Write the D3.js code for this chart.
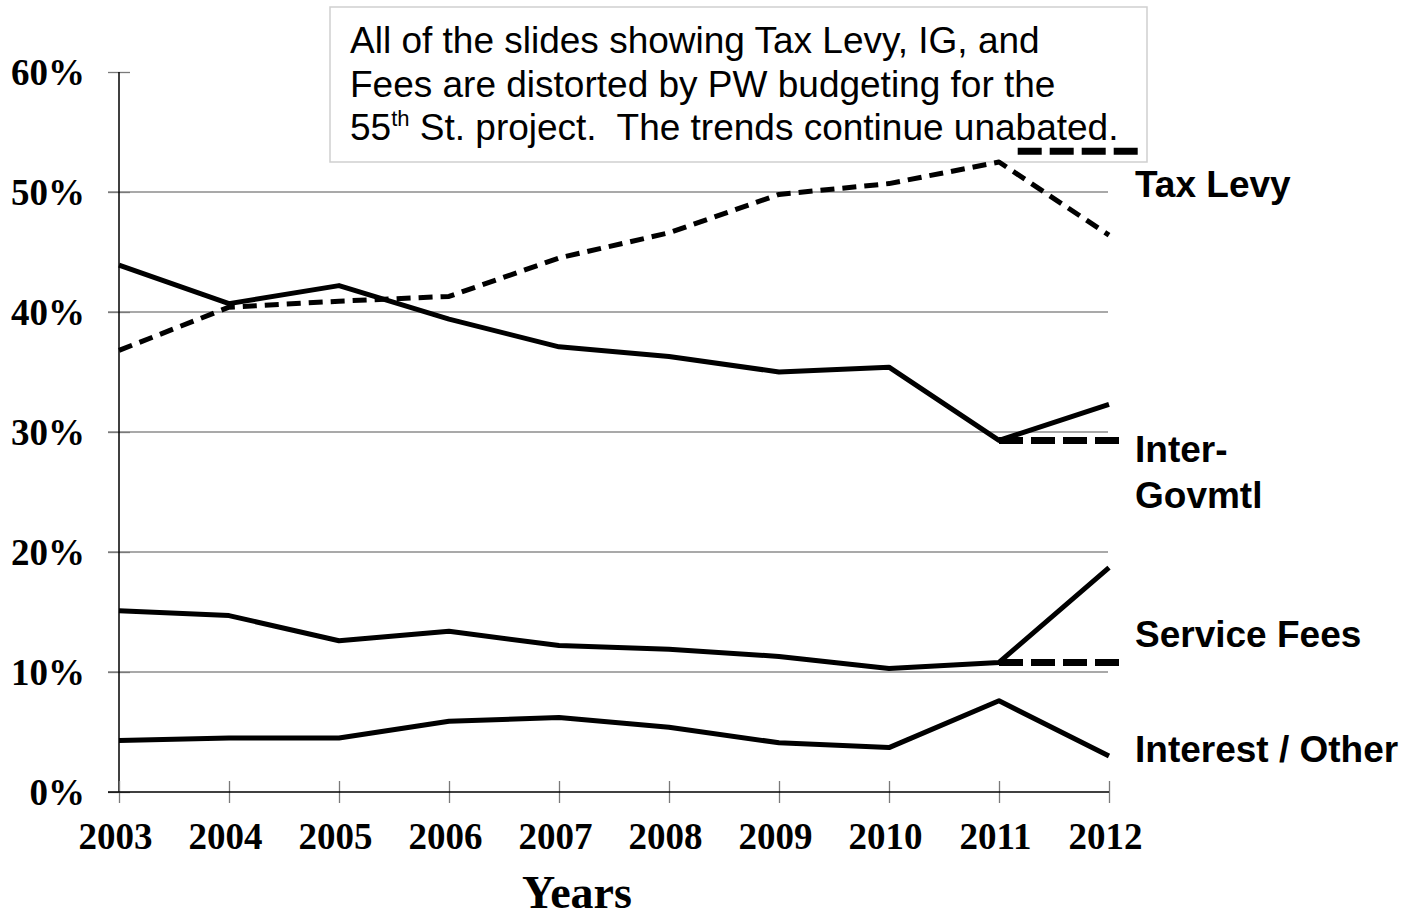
<!DOCTYPE html>
<html>
<head>
<meta charset="utf-8">
<script src="https://cdn.jsdelivr.net/npm/d3@7"></script>
<style>
    body { margin: 0; background: #fff; }
    text { white-space: pre; }
</style>
</head>
<body>
<script>
    // chart data
    const years = [2003, 2004, 2005, 2006, 2007, 2008, 2009, 2010, 2011, 2012];
    const taxLevy = [36.8, 40.4, 40.9, 41.3, 44.5, 46.6, 49.8, 50.7, 52.5, 46.4];
    const interGov = [43.9, 40.7, 42.2, 39.4, 37.1, 36.3, 35.0, 35.4, 29.3, 32.3];
    const serviceFees = [15.1, 14.7, 12.6, 13.4, 12.2, 11.9, 11.3, 10.3, 10.8, 18.7];
    const interestOther = [4.3, 4.5, 4.5, 5.9, 6.2, 5.4, 4.1, 3.7, 7.6, 3.0];
    const yTicks = [0, 10, 20, 30, 40, 50, 60];
    // "trend continues" dashes: [start year, end year, value]
    const trendTaxLevy = [2011.17, 2012.27, 53.4];
    const trendInterGov = [2011, 2012.13, 29.3];
    const trendFees = [2011, 2012.13, 10.8];
    const seriesLabels = [
        { lines: ["Tax Levy"], value: 49.6 },
        { lines: ["Inter-", "Govmtl"], value: 27.5 },
        { lines: ["Service Fees"], value: 12.1 },
        { lines: ["Interest / Other"], value: 2.5 }
    ];
    const noteLines = ["All of the slides showing Tax Levy, IG, and",
        "Fees are distorted by PW budgeting for the"];

    const width = 1410;
    const height = 919;

    let svg = d3.select("body").append("svg")
        .attr("width", width)
        .attr("height", height);

    let x = d3.scaleLinear().domain([2003, 2012]).range([119, 1109]);
    let y = d3.scaleLinear().domain([0, 60]).range([792, 72]);

    // note box (behind the lines)
    svg.append("rect")
        .attr("x", 330).attr("y", 7)
        .attr("width", 817).attr("height", 155)
        .attr("fill", "#fff")
        .attr("stroke", "#cfcfcf")
        .attr("stroke-width", 1.5);

    let note = svg.append("g")
        .attr("font-family", "Arial, 'Liberation Sans', sans-serif")
        .attr("font-size", 37)
        .attr("fill", "#000");
    noteLines.forEach(function(t, i) {
        note.append("text").attr("x", 350).attr("y", 53 + i * 43.5).text(t);
    });
    let last = note.append("text").attr("x", 350).attr("y", 140);
    last.append("tspan").text("55");
    last.append("tspan").attr("font-size", 22).attr("dy", -14).text("th");
    last.append("tspan").attr("dy", 14).text(" St. project.  The trends continue unabated.");

    // grid lines
    svg.append("g").selectAll("line")
        .data(yTicks.filter(d => d > 0 && d < 60))
        .enter().append("line")
        .attr("x1", 108).attr("x2", 1108)
        .attr("y1", d => y(d)).attr("y2", d => y(d))
        .attr("stroke", "#8c8c8c").attr("stroke-width", 1.3);

    // y axis
    let yAxis = svg.append("g")
        .attr("transform", "translate(130,0)")
        .call(d3.axisLeft(y).tickValues(yTicks).tickSize(22).tickFormat(d => d + "%"));
    yAxis.select(".domain").remove();
    yAxis.selectAll(".tick line").attr("stroke", "#7a7a7a").attr("stroke-width", 1.3);
    yAxis.selectAll(".tick text")
        .attr("x", -45)
        .attr("dy", "0.33em")
        .attr("font-family", "'Times New Roman', 'Liberation Serif', serif")
        .attr("font-weight", "bold")
        .attr("font-size", 37)
        .attr("fill", "#000");
    svg.append("line")
        .attr("x1", x(2003)).attr("x2", x(2003))
        .attr("y1", y(60)).attr("y2", y(0))
        .attr("stroke", "#000").attr("stroke-width", 1.5);

    // x axis
    let xAxis = svg.append("g")
        .attr("transform", "translate(0," + (y(0) - 11) + ")")
        .call(d3.axisBottom(x).tickValues(years).tickSize(22).tickFormat(d3.format("d")));
    xAxis.select(".domain").remove();
    xAxis.selectAll(".tick line").attr("stroke", "#7a7a7a").attr("stroke-width", 1.3);
    xAxis.selectAll(".tick text")
        .attr("x", -4)
        .attr("y", 68)
        .attr("dy", 0)
        .attr("font-family", "'Times New Roman', 'Liberation Serif', serif")
        .attr("font-weight", "bold")
        .attr("font-size", 37)
        .attr("fill", "#000");
    svg.append("line")
        .attr("x1", 108).attr("x2", x(2012))
        .attr("y1", y(0)).attr("y2", y(0))
        .attr("stroke", "#000").attr("stroke-width", 1.5);

    svg.append("text")
        .attr("x", 577).attr("y", 908)
        .attr("text-anchor", "middle")
        .attr("font-family", "'Times New Roman', 'Liberation Serif', serif")
        .attr("font-weight", "bold")
        .attr("font-size", 46)
        .text("Years");

    // series lines
    let line = d3.line()
        .x((d, i) => x(years[i]))
        .y(d => y(d));

    let series = [
        { values: taxLevy, dash: "14,8" },
        { values: interGov, dash: null },
        { values: serviceFees, dash: null },
        { values: interestOther, dash: null }
    ];

    svg.append("g").selectAll("path")
        .data(series)
        .enter().append("path")
        .attr("d", d => line(d.values))
        .attr("fill", "none")
        .attr("stroke", "#000")
        .attr("stroke-width", 5)
        .attr("stroke-linejoin", "round")
        .attr("stroke-dasharray", d => d.dash);

    // trend-continues dashes
    svg.append("g").selectAll("line")
        .data([trendTaxLevy, trendInterGov, trendFees])
        .enter().append("line")
        .attr("x1", d => x(d[0])).attr("x2", d => x(d[1]))
        .attr("y1", d => y(d[2])).attr("y2", d => y(d[2]))
        .attr("stroke", "#000")
        .attr("stroke-width", 7)
        .attr("stroke-dasharray", "24,8");

    // series labels
    let labels = svg.append("g")
        .attr("font-family", "Arial, 'Liberation Sans', sans-serif")
        .attr("font-weight", "bold")
        .attr("font-size", 37)
        .attr("fill", "#000");
    seriesLabels.forEach(function(l) {
        let t = labels.append("text").attr("y", y(l.value));
        l.lines.forEach(function(s, i) {
            t.append("tspan").attr("x", 1135).attr("dy", i === 0 ? 0 : 46).text(s);
        });
    });
</script>
</body>
</html>
